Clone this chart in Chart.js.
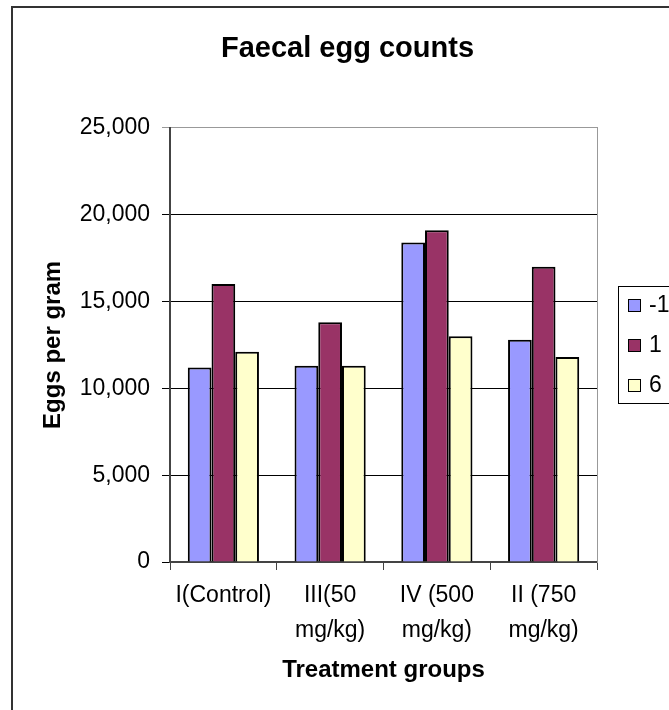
<!DOCTYPE html>
<html>
<head>
<meta charset="utf-8">
<title>Faecal egg counts</title>
<script src="https://cdn.jsdelivr.net/npm/chart.js@4/dist/chart.umd.min.js"></script>
<style>
  html, body { margin: 0; padding: 0; background: #fff; overflow: hidden; }
  #wrap { width: 669px; height: 710px; }
</style>
</head>
<body>
<div id="wrap"><canvas id="eggChart"></canvas></div>
<script>
// Chart data
var categories = ['I(Control)', ['III(50', 'mg/kg)'], ['IV (500', 'mg/kg)'], ['II (750', 'mg/kg)']];
var seriesNames = ['-1', '1', '6'];
var countsMinus1 = [11200, 11300, 18400, 12800];
var counts1 = [16000, 13800, 19100, 17000];
var counts6 = [12100, 11300, 13000, 11800];
var yMin = 0, yMax = 25000, yStep = 5000;

var FONT = "'Liberation Sans', Arial, sans-serif";
Chart.defaults.font.family = FONT;
Chart.defaults.color = '#000';

// Outer frame of the chart (cut off at right and bottom like the original)
var frame = {
    id: 'frame',
    beforeDraw: function(chart) {
        var ctx = chart.ctx;
        ctx.save();
        ctx.fillStyle = '#fff';
        ctx.fillRect(0, 0, chart.width, chart.height);
        ctx.strokeStyle = '#333';
        ctx.lineWidth = 2;
        ctx.strokeRect(12, 7, 800, 800);
        ctx.restore();
    }
};

// Boxed legend to the right of the plot area
var boxedLegend = {
    id: 'boxedLegend',
    afterDraw: function(chart) {
        var ctx = chart.ctx, area = chart.chartArea;
        var mid = (area.top + area.bottom) / 2;
        var x = Math.round(area.right) + 21;
        ctx.save();
        ctx.strokeStyle = '#000';
        ctx.lineWidth = 1;
        ctx.strokeRect(x + 0.5, Math.round(mid - 59) + 0.5, 120, 117);
        ctx.font = '23px ' + FONT;
        ctx.textBaseline = 'middle';
        chart.data.datasets.forEach(function(ds, i) {
            var cy = Math.round(mid + (i - 1) * 40);
            ctx.fillStyle = ds.backgroundColor;
            ctx.fillRect(x + 10, cy - 6, 13, 13);
            ctx.strokeRect(x + 10.5, cy - 5.5, 12, 12);
            ctx.fillStyle = '#000';
            ctx.fillText(ds.label, x + 31, cy + 1);
        });
        ctx.restore();
    }
};

var ctx = document.getElementById('eggChart').getContext('2d');
var eggChart = new Chart(ctx, {
    type: 'bar',
    data: {
        labels: categories,
        datasets: [
            { label: seriesNames[0], data: countsMinus1, backgroundColor: '#9999FF' },
            { label: seriesNames[1], data: counts1, backgroundColor: '#993366' },
            { label: seriesNames[2], data: counts6, backgroundColor: '#FFFFCC' }
        ]
    },
    options: {
        responsive: true,
        maintainAspectRatio: false,
        animation: false,
        layout: { padding: { left: 26, right: 0, top: 0, bottom: 0 } },
        datasets: {
            bar: {
                borderColor: '#000',
                borderWidth: 2,
                categoryPercentage: 3 / 4.5,
                barPercentage: 1
            }
        },
        plugins: {
            legend: { display: false },
            tooltip: { enabled: false },
            title: {
                display: true,
                text: 'Faecal egg counts',
                color: '#000',
                font: { size: 29, weight: 'bold', lineHeight: 1.2 },
                padding: { top: 32, bottom: 61 }
            }
        },
        scales: {
            x: {
                afterFit: function(scale) { scale.height = 148; },
                grid: {
                    offset: true,
                    drawOnChartArea: false,
                    drawTicks: true,
                    tickLength: 8,
                    color: '#444',
                    lineWidth: 1
                },
                border: { color: '#444', width: 2 },
                ticks: {
                    color: '#000',
                    padding: 8,
                    maxRotation: 0,
                    autoSkip: false,
                    font: { size: 23, lineHeight: 1.52 }
                },
                title: {
                    display: true,
                    text: 'Treatment groups',
                    color: '#000',
                    font: { size: 24, weight: 'bold', lineHeight: 1.2 },
                    padding: { top: 0, bottom: 25 }
                }
            },
            y: {
                min: yMin,
                max: yMax,
                afterFit: function(scale) { scale.width = 144; },
                grid: {
                    color: function(c) { return c.tick && c.tick.value === yMax ? '#999' : '#000'; },
                    lineWidth: 1,
                    tickLength: 8
                },
                border: { color: '#444', width: 2 },
                ticks: {
                    stepSize: yStep,
                    padding: 12,
                    color: '#000',
                    font: { size: 23 },
                    callback: function(v) { return Number(v).toLocaleString('en-US'); }
                },
                title: {
                    display: true,
                    text: 'Eggs per gram',
                    color: '#000',
                    font: { size: 24, weight: 'bold', lineHeight: 1.2 },
                    padding: { top: 13, bottom: 0 }
                }
            },
            // reserves the legend column and draws the right edge of the plot area
            yRight: {
                position: 'right',
                afterFit: function(scale) { scale.width = 72; },
                grid: { display: false },
                ticks: { display: false },
                border: { display: true, color: '#999', width: 1 }
            }
        }
    },
    plugins: [frame, boxedLegend]
});
</script>
</body>
</html>
